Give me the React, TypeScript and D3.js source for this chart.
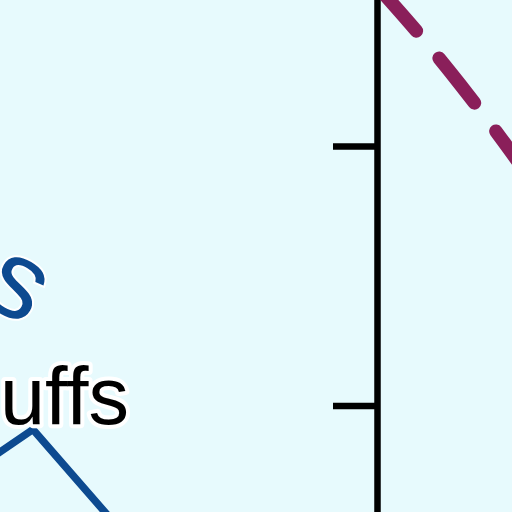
import React, { useEffect, useRef } from "react";
import * as d3 from "d3";

// Axis tick values (value units)
const yTickValues = [1, 2];
// Dashed (magenta) series
const dashX = [9.95, 11.14, 12.2, 13.26, 14.06];
const dashY = [2.624, 2.427, 2.238, 2.036, 1.876];
// Blue series
const blueX = [-0.53, 0.875, 3.45];
const blueY = [0.768, 0.9075, 0.478];
// Labels
const labelBlack = "Bluffs";
const labelBlue = "s";

const W = 512;
const H = 512;

export default function App() {
  const ref = useRef<SVGSVGElement | null>(null);

  useEffect(() => {
    const svg = d3.select(ref.current);
    svg.selectAll("*").remove();

    const x = d3.scaleLinear().domain([0, 10]).range([0, 377]);
    const y = d3.scaleLinear().domain([0.5, 2.6]).range([535.25, -9.7]);

    svg.append("rect").attr("width", W).attr("height", H).attr("fill", "#e7fafd");

    // axis
    const axis = d3
      .axisLeft(y)
      .tickValues(yTickValues)
      .tickSize(44)
      .tickSizeOuter(0)
      .tickFormat(() => "");
    const g = svg.append("g").attr("transform", `translate(${x(10)},0)`).call(axis);
    g.selectAll("path,line").attr("stroke", "#000").attr("stroke-width", 6.5);

    // dashed line
    const dashPts = dashX.map((d, i) => [x(d), y(dashY[i])] as [number, number]);
    svg
      .append("path")
      .attr("d", d3.line().curve(d3.curveMonotoneX)(dashPts))
      .attr("fill", "none")
      .attr("stroke", "#8a1f5a")
      .attr("stroke-width", 13.5)
      .attr("stroke-linecap", "round")
      .attr("stroke-dasharray", "57 35.5")
      .attr("stroke-dashoffset", 87);

    // blue line
    const bluePts = blueX.map((d, i) => [x(d), y(blueY[i])] as [number, number]);
    svg
      .append("path")
      .attr("d", d3.line()(bluePts))
      .attr("fill", "none")
      .attr("stroke", "#0d4a90")
      .attr("stroke-width", 7.5);

    // labels
    svg
      .append("text")
      .attr("x", 129)
      .attr("y", 424)
      .attr("text-anchor", "end")
      .attr("font-family", "Liberation Sans, Arial, sans-serif")
      .attr("font-size", 81)
      .attr("fill", "#000")
      .attr("stroke", "#fff")
      .attr("stroke-width", 8)
      .attr("stroke-linejoin", "round")
      .attr("paint-order", "stroke")
      .text(labelBlack);

    svg
      .append("g")
      .attr("transform", "translate(16,288) rotate(30)")
      .append("text")
      .attr("x", 0)
      .attr("y", 29)
      .attr("text-anchor", "middle")
      .attr("font-family", "Liberation Sans, Arial, sans-serif")
      .attr("font-size", 110)
      .attr("fill", "#0d4a90")
      .attr("stroke", "#fff")
      .attr("stroke-width", 4)
      .attr("paint-order", "stroke")
      .text(labelBlue);
  }, []);

  return (
    <svg
      ref={ref}
      width={W}
      height={H}
      style={{ position: "fixed", left: 0, top: 0, display: "block" }}
    />
  );
}
